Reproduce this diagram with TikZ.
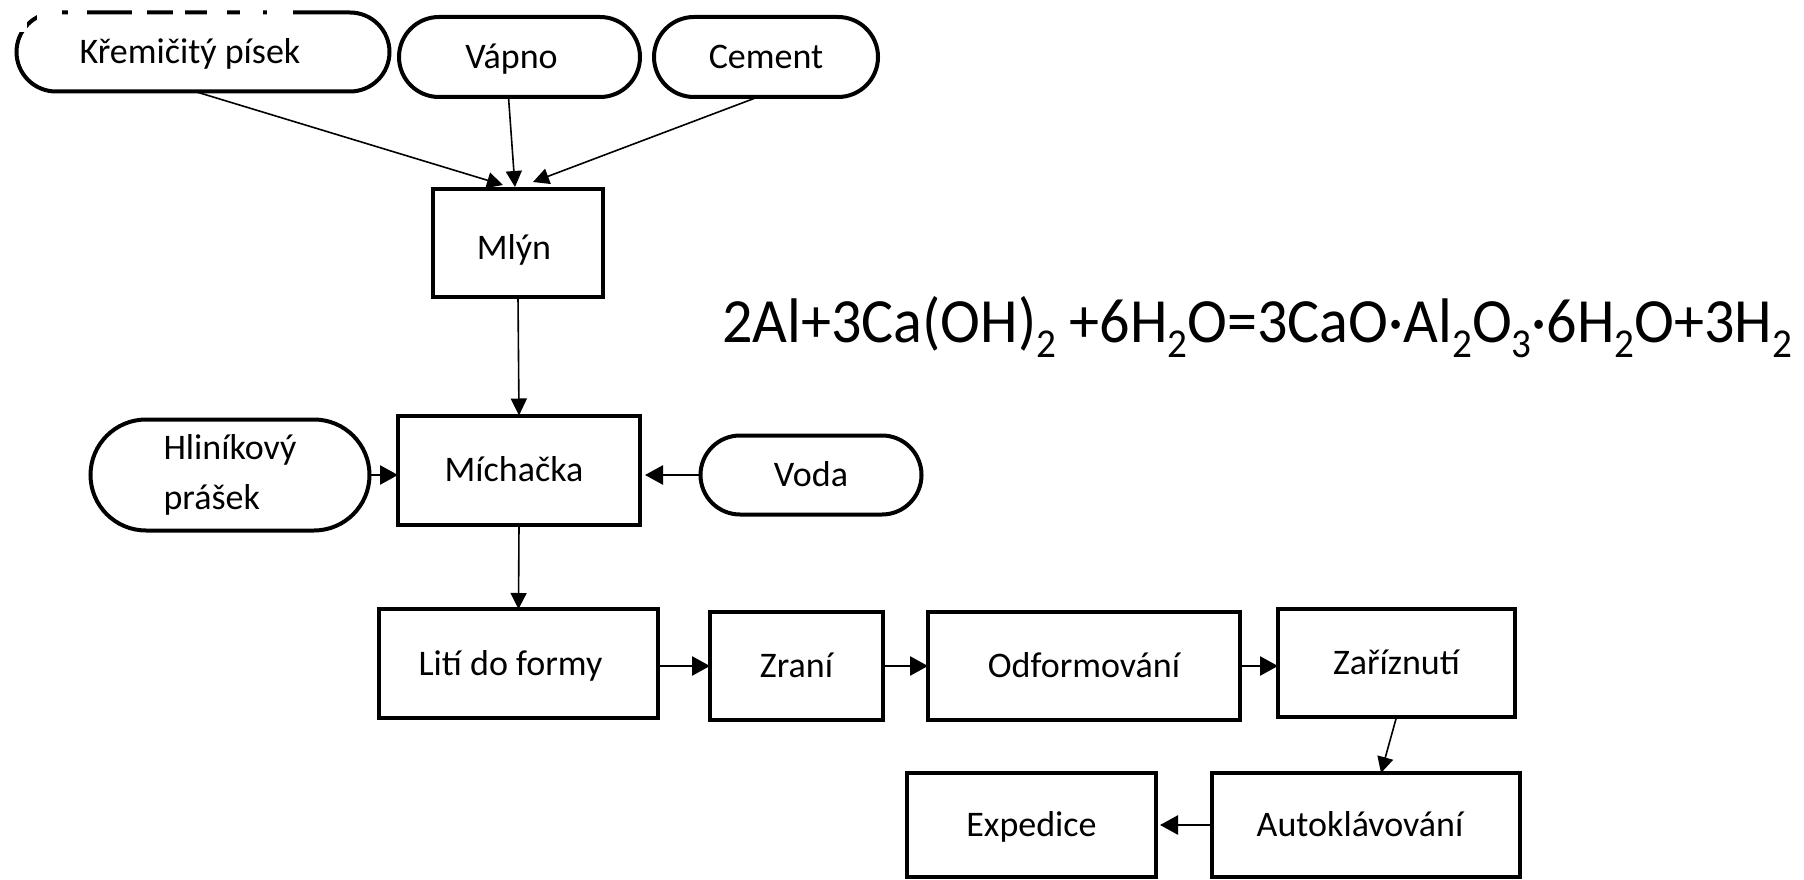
\documentclass[tikz,border=0pt]{standalone}
\usepackage{fontspec}
\usepackage{graphicx}
\setmainfont{Carlito}
\usetikzlibrary{arrows.meta,shapes.misc}
\newcommand\sbs[1]{\raisebox{-15pt}{\fontsize{41}{41}\selectfont #1}}
\begin{document}
\begin{tikzpicture}[x=1pt,y=-1pt,
  box/.style={draw, line width=4pt, rectangle, inner sep=0pt, outer sep=0pt, align=center,
    text height=23.2pt, text depth=0pt, font=\fontsize{36}{50}\selectfont},
  term/.style={draw, line width=4pt, rounded rectangle, inner sep=0pt, outer sep=0pt, align=left, font=\fontsize{36}{50}\selectfont},
  one/.style={text height=23.2pt, text depth=0pt},
  arr/.style={line width=1.6pt, -{Triangle[length=16pt,width=16pt]}},
  arrb/.style={line width=2.6pt, -{Triangle[length=18pt,width=19pt]}},
]
\useasboundingbox (0,0) rectangle (1804,880);
% top row
\node[term, one, minimum width=373pt, minimum height=79pt] (kp) at (203,52) {Křemičitý písek\hspace*{26pt}};
\node[term, one, minimum width=241pt, minimum height=80pt] (vapno) at (519.5,57) {Vápno\hspace*{16pt}};
\node[term, one, minimum width=224pt, minimum height=80pt] (cement) at (766,57) {Cement};
% erased parts of the first outline
\fill[white] (12,20) rectangle (27,32);
\fill[white] (37,6) rectangle (62,20);
\fill[white] (68,6) rectangle (87,20);
\fill[white] (132,6) rectangle (147,20);
\fill[white] (173,6) rectangle (185,20);
\fill[white] (207,6) rectangle (227,20);
\fill[white] (240,6) rectangle (263,20);
\fill[white] (267,6) rectangle (293,20);
\node[box, text height=33pt, minimum width=170pt, minimum height=108pt] (mlyn) at (518,243) {Mlýn\hspace*{8pt}};
% middle row
\node[term, minimum width=279pt, minimum height=111pt] (hp) at (230,475) {Hliníkový\\prášek};
\node[box, minimum width=242pt, minimum height=109pt] (mich) at (519,470) {Míchačka\hspace*{10pt}};
\node[term, one, minimum width=221pt, minimum height=79pt] (voda) at (811,475) {Voda};
% bottom rows
\node[box, minimum width=279pt, minimum height=109pt] (liti) at (518.5,663.5) {Lití do formy\hspace*{16pt}};
\node[box, minimum width=173pt, minimum height=108pt] (zrani) at (796.5,666) {Zraní};
\node[box, minimum width=312pt, minimum height=108pt] (odf) at (1084,666) {Odformování};
\node[box, minimum width=237pt, minimum height=108pt] (zar) at (1396.5,663) {Zaříznutí};
\node[box, minimum width=249pt, minimum height=104pt] (exp) at (1031.5,825) {Expedice};
\node[box, minimum width=308pt, minimum height=104pt] (auto) at (1366,825) {Autoklávování\hspace*{12pt}};
% equation
\node[anchor=base west, inner sep=0pt, font=\fontsize{63}{70}\selectfont] (eq) at (722,342)
  {\resizebox{1070pt}{\height}{2Al+3Ca(OH)\sbs{2} +6H\sbs{2}O=3CaO·Al\sbs{2}O\sbs{3}·6H\sbs{2}O+3H\sbs{2}}};
% connectors
\draw[arr] ([xshift=-8pt]kp.south) -- ([xshift=-15pt,yshift=4pt]mlyn.north);
\draw[arr] ([xshift=-11pt]vapno.south) -- ([xshift=-3pt,yshift=2pt]mlyn.north);
\draw[arr] ([xshift=-8pt]cement.south) -- ([xshift=15pt,yshift=7pt]mlyn.north);
\draw[arr, -{Triangle[length=17pt,width=16pt]}] (mlyn.south) -- (mich.north);
\draw[arrb] (hp.east) -- (hp.east -| mich.west);
\draw[arrb, shorten >=5pt] (voda.west) -- (voda.west -| mich.east);
\draw[arr] (mich.south) -- (liti.north);
\draw[arrb] (liti.east |- zrani.west) -- (zrani.west);
\draw[arrb] (zrani.east) -- (odf.west);
\draw[arrb] (odf.east) -- (odf.east -| zar.west);
\draw[arr] (zar.south) -- ([xshift=15pt]auto.north);
\draw[arrb, shorten >=4pt] (auto.west) -- (exp.east);
\end{tikzpicture}
\end{document}
